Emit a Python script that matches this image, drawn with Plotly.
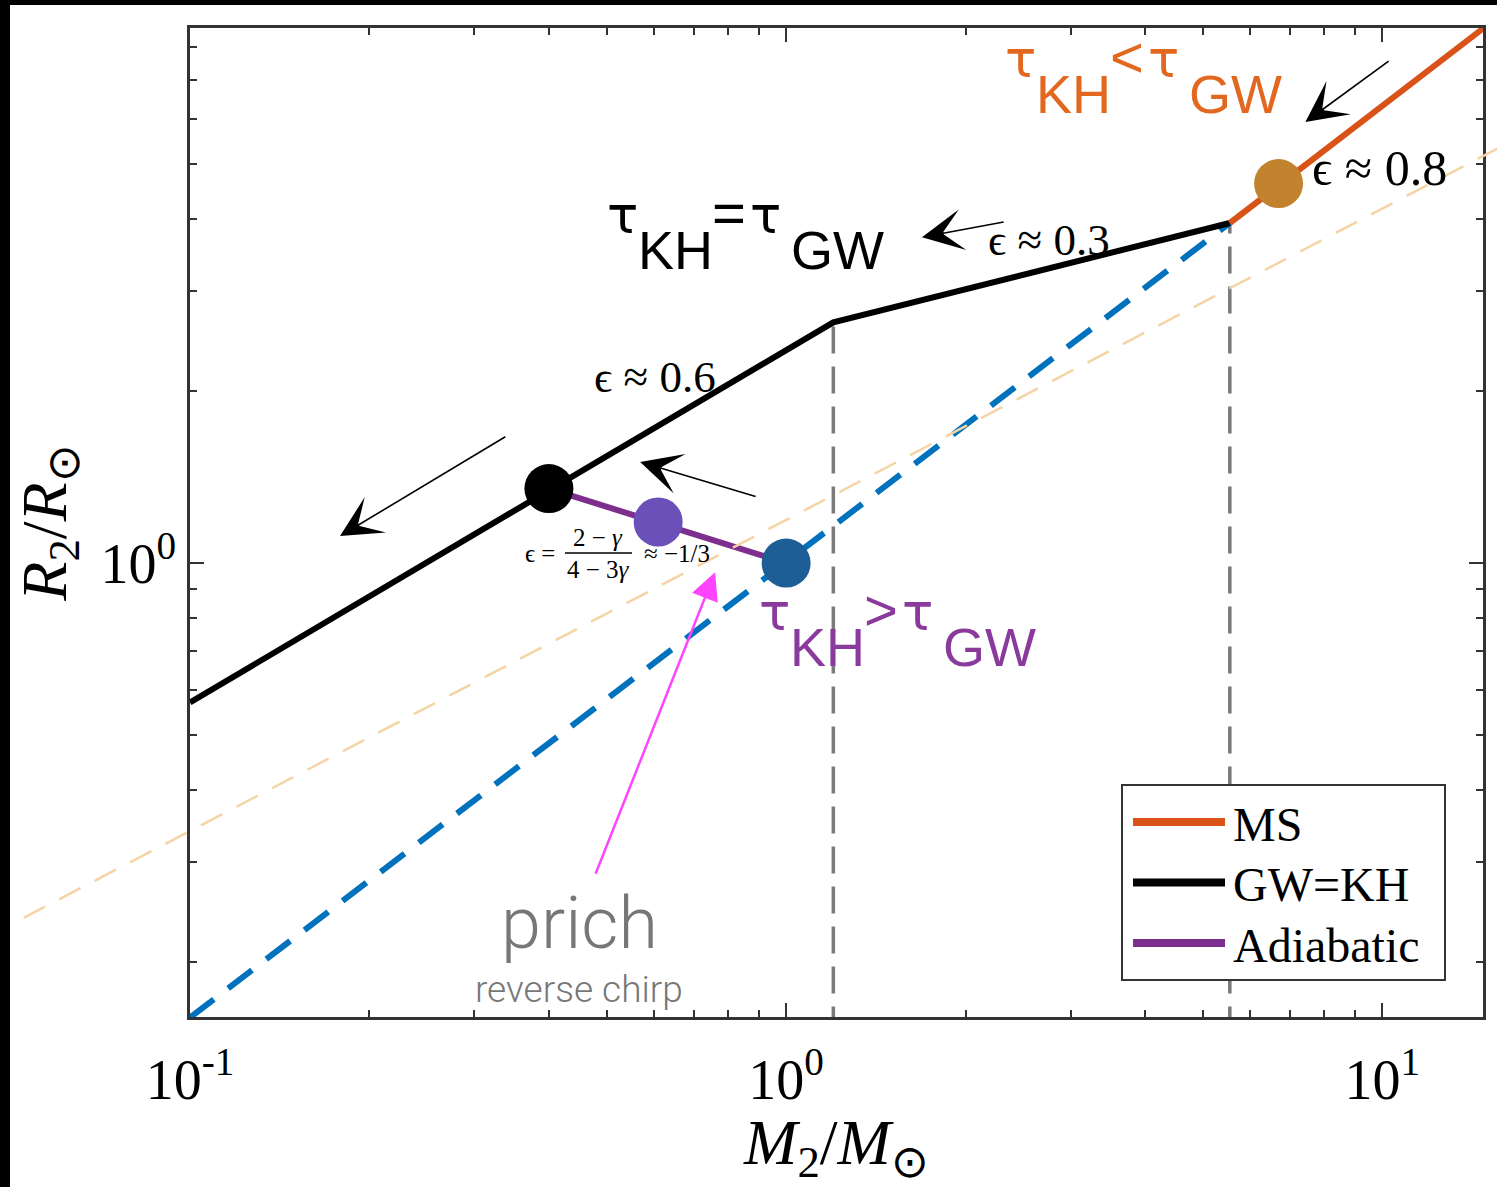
import numpy as np
import plotly.graph_objects as go

W, H = 1497, 1187

# plot frame inside the figure (pixels)
FX0, FX1 = 190, 1483      # left, right
FY0, FY1 = 28, 1017       # top, bottom

# axis ranges in log10 units
XR = [-1.0, 1.169]
YR = [-0.795, 0.937]

# ---------------- data ----------------
# main-sequence branch (R ~ M^0.8)
ms_mass = [5.55, 14.8]
ms_radius = [3.94, 8.65]

# main-sequence relation continued to low mass (dashed)
msl_mass = [0.1, 5.55]
msl_radius = [0.16, 3.94]

# GW = KH equilibrium track
gwkh_mass = [0.1, 1.2, 5.55]
gwkh_radius = [0.57, 2.64, 3.94]

# adiabatic response
adi_mass = [0.4, 1.0]
adi_radius = [1.35, 1.0]

# reference power law (light dashed guide)
guide_mass = [0.04, 18.0]
guide_radius = [0.206, 5.75]

# break masses (vertical dashed guides)
break_mass = [1.2, 5.55]
break_radius = [2.64, 3.94]

# highlighted states
dot_mass = [6.7, 0.4, 0.61, 1.0]
dot_radius = [4.62, 1.35, 1.18, 1.0]
dot_colors = ["#C2832F", "#000000", "#6A50B8", "#1E5E96"]

# legend entries
legend_names = ["MS", "GW=KH", "Adiabatic"]
legend_colors = ["#D95319", "#000000", "#7E2F8E"]

# tick labels
x_tickvals = [0.1, 1, 10]
x_ticktext = ["10<sup>-1</sup>", "10<sup>0</sup>", "10<sup>1</sup>"]
y_tickvals = [1]
y_ticktext = ["10<sup>0</sup>"]
x_minor = [0.2, 0.3, 0.4, 0.5, 0.6, 0.7, 0.8, 0.9, 2, 3, 4, 5, 6, 7, 8, 9]
y_minor = [0.2, 0.3, 0.4, 0.5, 0.6, 0.7, 0.8, 0.9, 2, 3, 4, 5, 6, 7, 8]

SERIF = "Liberation Serif, Times New Roman, serif"
SANS = "Liberation Sans, Arial, sans-serif"
GREEK = "DejaVu Sans, Liberation Sans, sans-serif"
LIGHT = "Roboto, Open Sans, sans-serif"

lg = np.log10


def pp(X, Y):
    """figure pixel -> paper coordinates"""
    return X / W, 1 - Y / H


fig = go.Figure()

# full-figure subplot sharing the same scale, for the unclipped guide line
kx = (XR[1] - XR[0]) / (FX1 - FX0)
ky = (YR[1] - YR[0]) / (FY1 - FY0)
XR2 = [XR[0] - FX0 * kx, XR[1] + (W - FX1) * kx]
YR2 = [YR[0] - (H - FY1) * ky, YR[1] + FY0 * ky]

fig.add_trace(go.Scatter(
    x=guide_mass, y=guide_radius, mode="lines", xaxis="x2", yaxis="y2",
    line=dict(color="#F4D4A4", width=2.5, dash="24px,16px"),
    showlegend=False, hoverinfo="skip"))

# vertical break guides
for m, r in zip(break_mass, break_radius):
    fig.add_trace(go.Scatter(
        x=[m, m], y=[0.15, r], mode="lines",
        line=dict(color="#7A7A7A", width=3.5, dash="27px,13px"),
        showlegend=False, hoverinfo="skip"))

# dashed main-sequence continuation
fig.add_trace(go.Scatter(
    x=msl_mass, y=msl_radius, mode="lines",
    line=dict(color="#0072BD", width=6, dash="30px,18px"),
    showlegend=False, hoverinfo="skip"))

fig.add_trace(go.Scatter(
    x=gwkh_mass, y=gwkh_radius, mode="lines",
    line=dict(color=legend_colors[1], width=6), showlegend=False))
fig.add_trace(go.Scatter(
    x=ms_mass, y=ms_radius, mode="lines",
    line=dict(color=legend_colors[0], width=6), showlegend=False))
fig.add_trace(go.Scatter(
    x=adi_mass, y=adi_radius, mode="lines",
    line=dict(color=legend_colors[2], width=6), showlegend=False))

fig.add_trace(go.Scatter(
    x=dot_mass, y=dot_radius, mode="markers", cliponaxis=False,
    marker=dict(color=dot_colors, size=49, line=dict(width=0)),
    showlegend=False))

annotations = []
shapes = []


def txt(x, y, text, size, color="black", family=SERIF, xanchor="center",
        yanchor="middle", ref="data", weight=None):
    font = dict(size=size, color=color, family=family)
    if weight:
        font["weight"] = weight
    if ref == "data":
        annotations.append(dict(x=lg(x), y=lg(y), xref="x", yref="y", text=text,
                                showarrow=False, font=font,
                                xanchor=xanchor, yanchor=yanchor))
    else:
        px, py = pp(x, y)
        annotations.append(dict(x=px, y=py, xref="paper", yref="paper", text=text,
                                showarrow=False, font=font,
                                xanchor=xanchor, yanchor=yanchor))


def arrow(tail, head, color="black", width=1.6, size=4.3, head_style=3):
    annotations.append(dict(
        x=lg(head[0]), y=lg(head[1]), ax=lg(tail[0]), ay=lg(tail[1]),
        xref="x", yref="y", axref="x", ayref="y", text="", showarrow=True,
        arrowhead=head_style, arrowsize=size, arrowwidth=width, arrowcolor=color))


def tau_label(X, Y, rel, color):
    """tau_KH <rel> tau_GW, X/Y = left end / baseline of the 'KH' row (pixels)"""
    big, rel_size, tau_size = 54, 58, 52
    txt(X, Y - 35, "τ", tau_size, color, GREEK, "left", "bottom", ref="paper")
    txt(X + 31, Y, "KH", big, color, SANS, "left", "bottom", ref="paper")
    txt(X + 105, Y - 35, rel, rel_size, color, SANS, "left", "bottom", ref="paper")
    txt(X + 143, Y - 35, "τ", tau_size, color, GREEK, "left", "bottom", ref="paper")
    txt(X + 184, Y, "GW", big, color, SANS, "left", "bottom", ref="paper")


tau_label(1003, 126, "&lt;", "#E2681F")
tau_label(605, 282, "=", "#000000")
tau_label(757, 679, "&gt;", "#8A3A9C")

# slope labels
txt(9.9, 4.92, "ϵ ≈ 0.8", 50)
txt(2.76, 3.68, "ϵ ≈ 0.3", 45)
txt(0.603, 2.12, "ϵ ≈ 0.6", 45)

# adiabatic exponent expression
txt(540, 553, "ϵ =", 25, ref="paper")
txt(598, 538, "2 − <i>γ</i>", 25, ref="paper")
txt(598, 569, "4 − 3<i>γ</i>", 25, ref="paper")
txt(677, 553, "≈ −1/3", 25, ref="paper")
fx0, fy = pp(565, 553)
fx1, _ = pp(632, 553)
shapes.append(dict(type="line", xref="paper", yref="paper", x0=fx0, x1=fx1,
                   y0=fy, y1=fy, line=dict(color="black", width=1.3)))

# evolution arrows
arrow((10.31, 7.60), (7.43, 5.92))
arrow((2.33, 3.96), (1.69, 3.72))
arrow((0.340, 1.67), (0.1785, 1.115))
arrow((0.894, 1.305), (0.569, 1.503))
arrow((0.478, 0.284), (0.760, 0.964), color="#FF44FF", width=2.5, size=2.2,
      head_style=2)

txt(579, 923, "prich", 72, "#777777", LIGHT, ref="paper", weight=300)
txt(579, 990, "reverse chirp", 37, "#777777", LIGHT, ref="paper", weight=300)

# legend box
bx0, by0 = pp(1122, 980)
bx1, by1 = pp(1445, 785)
shapes.append(dict(type="rect", xref="paper", yref="paper", x0=bx0, y0=by0,
                   x1=bx1, y1=by1, line=dict(color="#333333", width=2),
                   fillcolor="white", layer="above"))
for i, (name, col) in enumerate(zip(legend_names, legend_colors)):
    Y = 822 + 60.5 * i
    lx0, ly = pp(1133, Y)
    lx1, _ = pp(1225, Y)
    shapes.append(dict(type="line", xref="paper", yref="paper", x0=lx0, x1=lx1,
                       y0=ly, y1=ly, line=dict(color=col, width=8), layer="above"))
    txt(1231, Y + 2, name, 48, ref="paper", xanchor="left")

# dark frame bands along the top and left edges of the image
shapes.append(dict(type="rect", xref="paper", yref="paper", x0=0, x1=10 / W,
                   y0=0, y1=1, fillcolor="black", line=dict(width=0), layer="above"))
shapes.append(dict(type="rect", xref="paper", yref="paper", x0=0, x1=1,
                   y0=1 - 5 / H, y1=1, fillcolor="black", line=dict(width=0),
                   layer="above"))

axis_common = dict(
    type="log", showgrid=False, zeroline=False, showline=True, linecolor="#333333",
    linewidth=2.5, mirror="allticks", ticks="inside", ticklen=14, tickwidth=2,
    tickcolor="#333333", automargin=False,
    tickfont=dict(family=SERIF, size=56, color="black"),
    minor=dict(ticks="inside", ticklen=7, tickwidth=2, tickcolor="#333333",
               tickmode="array", showgrid=False),
)

fig.update_layout(
    template="none",
    width=W, height=H,
    margin=dict(l=0, r=0, t=0, b=0, pad=0, autoexpand=False),
    paper_bgcolor="white", plot_bgcolor="rgba(0,0,0,0)",
    font=dict(family=SERIF, color="black"),
    showlegend=False,
    xaxis=dict(axis_common, domain=[FX0 / W, FX1 / W], range=XR,
               tickmode="array", tickvals=x_tickvals, ticktext=x_ticktext,
               ticklabelstandoff=12,
               title=dict(text="<i>M</i><sub>2</sub>/<i>M</i><sub>⊙</sub>",
                          font=dict(family=SERIF, size=64, color="black"),
                          standoff=8)),
    yaxis=dict(axis_common, domain=[1 - FY1 / H, 1 - FY0 / H], range=YR,
               tickmode="array", tickvals=y_tickvals, ticktext=y_ticktext,
               ticklabelstandoff=0,
               title=dict(text="<i>R</i><sub>2</sub>/<i>R</i><sub>⊙</sub>",
                          font=dict(family=SERIF, size=64, color="black"),
                          standoff=14)),
    xaxis2=dict(type="log", domain=[0, 1], range=XR2, visible=False,
                anchor="y2", fixedrange=True, automargin=False),
    yaxis2=dict(type="log", domain=[0, 1], range=YR2, visible=False,
                anchor="x2", fixedrange=True, automargin=False),
    annotations=annotations,
    shapes=shapes,
)
fig.layout.xaxis.minor.tickvals = x_minor
fig.layout.yaxis.minor.tickvals = y_minor

fig.write_html("out.html")
